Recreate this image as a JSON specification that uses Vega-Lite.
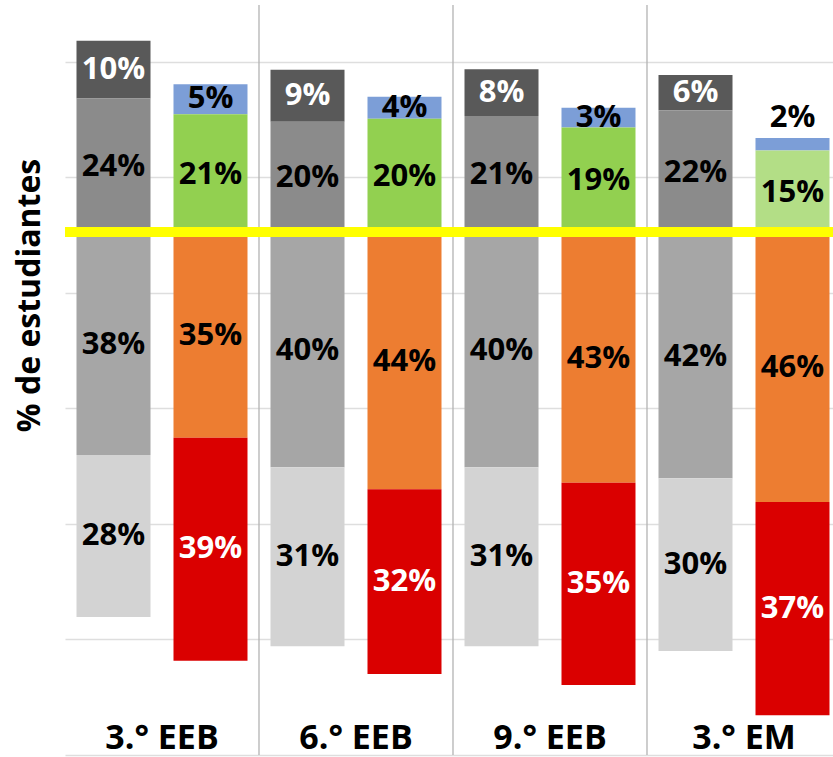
{
  "$schema": "https://vega.github.io/schema/vega-lite/v6.json",
  "width": 768,
  "height": 750,
  "autosize": {"type": "none"},
  "padding": {"left": 65, "top": 5, "right": 0, "bottom": 2},
  "background": "white",
  "config": {"view": {"stroke": null}, "font": "Open Sans"},
  "datasets": {
    "notas": [
      {"grado": "3.° EEB", "serie": "A", "nivel": "IV", "valor": 0.100},
      {"grado": "3.° EEB", "serie": "A", "nivel": "III", "valor": 0.236},
      {"grado": "3.° EEB", "serie": "A", "nivel": "II", "valor": -0.381},
      {"grado": "3.° EEB", "serie": "A", "nivel": "I", "valor": -0.280},
      {"grado": "3.° EEB", "serie": "B", "nivel": "IV", "valor": 0.052},
      {"grado": "3.° EEB", "serie": "B", "nivel": "III", "valor": 0.209},
      {"grado": "3.° EEB", "serie": "B", "nivel": "II", "valor": -0.351},
      {"grado": "3.° EEB", "serie": "B", "nivel": "I", "valor": -0.386},
      {"grado": "6.° EEB", "serie": "A", "nivel": "IV", "valor": 0.090},
      {"grado": "6.° EEB", "serie": "A", "nivel": "III", "valor": 0.196},
      {"grado": "6.° EEB", "serie": "A", "nivel": "II", "valor": -0.402},
      {"grado": "6.° EEB", "serie": "A", "nivel": "I", "valor": -0.310},
      {"grado": "6.° EEB", "serie": "B", "nivel": "IV", "valor": 0.038},
      {"grado": "6.° EEB", "serie": "B", "nivel": "III", "valor": 0.201},
      {"grado": "6.° EEB", "serie": "B", "nivel": "II", "valor": -0.440},
      {"grado": "6.° EEB", "serie": "B", "nivel": "I", "valor": -0.320},
      {"grado": "9.° EEB", "serie": "A", "nivel": "IV", "valor": 0.081},
      {"grado": "9.° EEB", "serie": "A", "nivel": "III", "valor": 0.206},
      {"grado": "9.° EEB", "serie": "A", "nivel": "II", "valor": -0.402},
      {"grado": "9.° EEB", "serie": "A", "nivel": "I", "valor": -0.310},
      {"grado": "9.° EEB", "serie": "B", "nivel": "IV", "valor": 0.034},
      {"grado": "9.° EEB", "serie": "B", "nivel": "III", "valor": 0.186},
      {"grado": "9.° EEB", "serie": "B", "nivel": "II", "valor": -0.429},
      {"grado": "9.° EEB", "serie": "B", "nivel": "I", "valor": -0.350},
      {"grado": "3.° EM", "serie": "A", "nivel": "IV", "valor": 0.061},
      {"grado": "3.° EM", "serie": "A", "nivel": "III", "valor": 0.216},
      {"grado": "3.° EM", "serie": "A", "nivel": "II", "valor": -0.421},
      {"grado": "3.° EM", "serie": "A", "nivel": "I", "valor": -0.299},
      {"grado": "3.° EM", "serie": "B", "nivel": "IV", "valor": 0.022},
      {"grado": "3.° EM", "serie": "B", "nivel": "III", "valor": 0.146},
      {"grado": "3.° EM", "serie": "B", "nivel": "II", "valor": -0.462},
      {"grado": "3.° EM", "serie": "B", "nivel": "I", "valor": -0.369}
    ],
    "grados": [
      {"grado": "3.° EEB"},
      {"grado": "6.° EEB"},
      {"grado": "9.° EEB"},
      {"grado": "3.° EM"}
    ]
  },
  "layer": [
    {
      "data": {"name": "grados"},
      "transform": [{"filter": "datum.grado !== '3.° EEB'"}],
      "mark": {"type": "rule", "color": "#b3b3b3", "strokeWidth": 1.3},
      "encoding": {
        "x": {
          "field": "grado", "type": "nominal", "bandPosition": 0,
          "sort": ["3.° EEB", "6.° EEB", "9.° EEB", "3.° EM"],
          "scale": {"range": [0, 776], "paddingInner": 0, "paddingOuter": 0},
          "axis": null
        }
      }
    },
    {
      "data": {"name": "notas"},
      "transform": [
        {"calculate": "indexof(['II','III','I','IV'], datum.nivel)", "as": "orden"},
        {"calculate": "datum.serie + '-' + datum.nivel", "as": "clave"},
        {"stack": "valor", "groupby": ["grado", "serie"], "sort": [{"field": "orden", "order": "ascending"}], "offset": "zero", "as": ["v0", "v1"]},
        {"calculate": "(datum.v0 + datum.v1) / 2", "as": "mid"},
        {"calculate": "format(abs(datum.valor), '.0%')", "as": "etiqueta"}
      ],
      "layer": [
        {
          "mark": {"type": "bar"},
          "encoding": {
            "x": {"field": "grado", "type": "nominal", "sort": ["3.° EEB", "6.° EEB", "9.° EEB", "3.° EM"], "axis": null},
            "xOffset": {"field": "serie", "type": "nominal", "sort": ["A", "B"], "scale": {"paddingInner": 0.237, "paddingOuter": 0.1186}},
            "y": {
              "field": "v0", "type": "quantitative",
              "scale": {"domain": [-0.9, 0.398], "nice": false, "zero": false},
              "title": "% de estudiantes",
              "axis": {
                "values": [0.3, 0.1, -0.1, -0.3, -0.5, -0.7, -0.9],
                "labels": false, "ticks": false, "domain": false,
                "grid": true, "gridColor": "#dedede", "gridWidth": 1.6,
                "titleFont": "Open Sans", "titleFontSize": 32, "titleFontWeight": "bold", "titleColor": "#000000",
                "titleAngle": -90, "titleX": -36, "titleY": 290, "titleAlign": "center", "titleBaseline": "middle"
              }
            },
            "y2": {"field": "v1"},
            "color": {
              "condition": {"test": "datum.grado === '3.° EM' && datum.clave === 'B-III'", "value": "#b3de86"},
              "field": "clave", "type": "nominal",
              "scale": {
                "domain": ["A-IV", "A-III", "A-II", "A-I", "B-IV", "B-III", "B-II", "B-I"],
                "range": ["#595959", "#8b8b8b", "#a6a6a6", "#d3d3d3", "#7c9ed7", "#92d050", "#ed7d31", "#da0000"]
              },
              "legend": null
            }
          }
        },
        {
          "data": {"values": [{}]},
          "mark": {"type": "rule", "color": "#ffff00", "strokeWidth": 10},
          "encoding": {"y": {"datum": 0.005, "type": "quantitative", "title": "% de estudiantes"}}
        },
        {
          "transform": [{"filter": "!(datum.grado === '3.° EM' && datum.clave === 'B-IV')"}],
          "mark": {"type": "text", "font": "Open Sans", "fontSize": 31, "fontWeight": "bold", "baseline": "middle", "align": "center"},
          "encoding": {
            "x": {"field": "grado", "type": "nominal", "sort": ["3.° EEB", "6.° EEB", "9.° EEB", "3.° EM"], "axis": null},
            "xOffset": {"field": "serie", "type": "nominal", "sort": ["A", "B"]},
            "y": {"field": "mid", "type": "quantitative", "title": "% de estudiantes"},
            "text": {"field": "etiqueta"},
            "color": {
              "condition": {"test": "datum.clave === 'A-IV' || datum.clave === 'B-I'", "value": "#ffffff"},
              "value": "#000000"
            }
          }
        },
        {
          "transform": [{"filter": "datum.grado === '3.° EM' && datum.clave === 'B-IV'"}],
          "mark": {"type": "text", "font": "Open Sans", "fontSize": 31, "fontWeight": "bold", "baseline": "alphabetic", "align": "center", "dy": -11, "color": "#000000"},
          "encoding": {
            "x": {"field": "grado", "type": "nominal", "sort": ["3.° EEB", "6.° EEB", "9.° EEB", "3.° EM"], "axis": null},
            "xOffset": {"field": "serie", "type": "nominal", "sort": ["A", "B"]},
            "y": {"field": "v1", "type": "quantitative", "title": "% de estudiantes"},
            "text": {"field": "etiqueta"}
          }
        }
      ]
    },
    {
      "data": {"name": "grados"},
      "mark": {"type": "text", "font": "Open Sans", "fontSize": 34, "fontWeight": "bold", "baseline": "alphabetic", "align": "center", "color": "#000000"},
      "encoding": {
        "x": {"field": "grado", "type": "nominal", "sort": ["3.° EEB", "6.° EEB", "9.° EEB", "3.° EM"], "axis": null},
        "y": {"datum": -0.89, "type": "quantitative", "title": "% de estudiantes"},
        "text": {"field": "grado"}
      }
    }
  ]
}
